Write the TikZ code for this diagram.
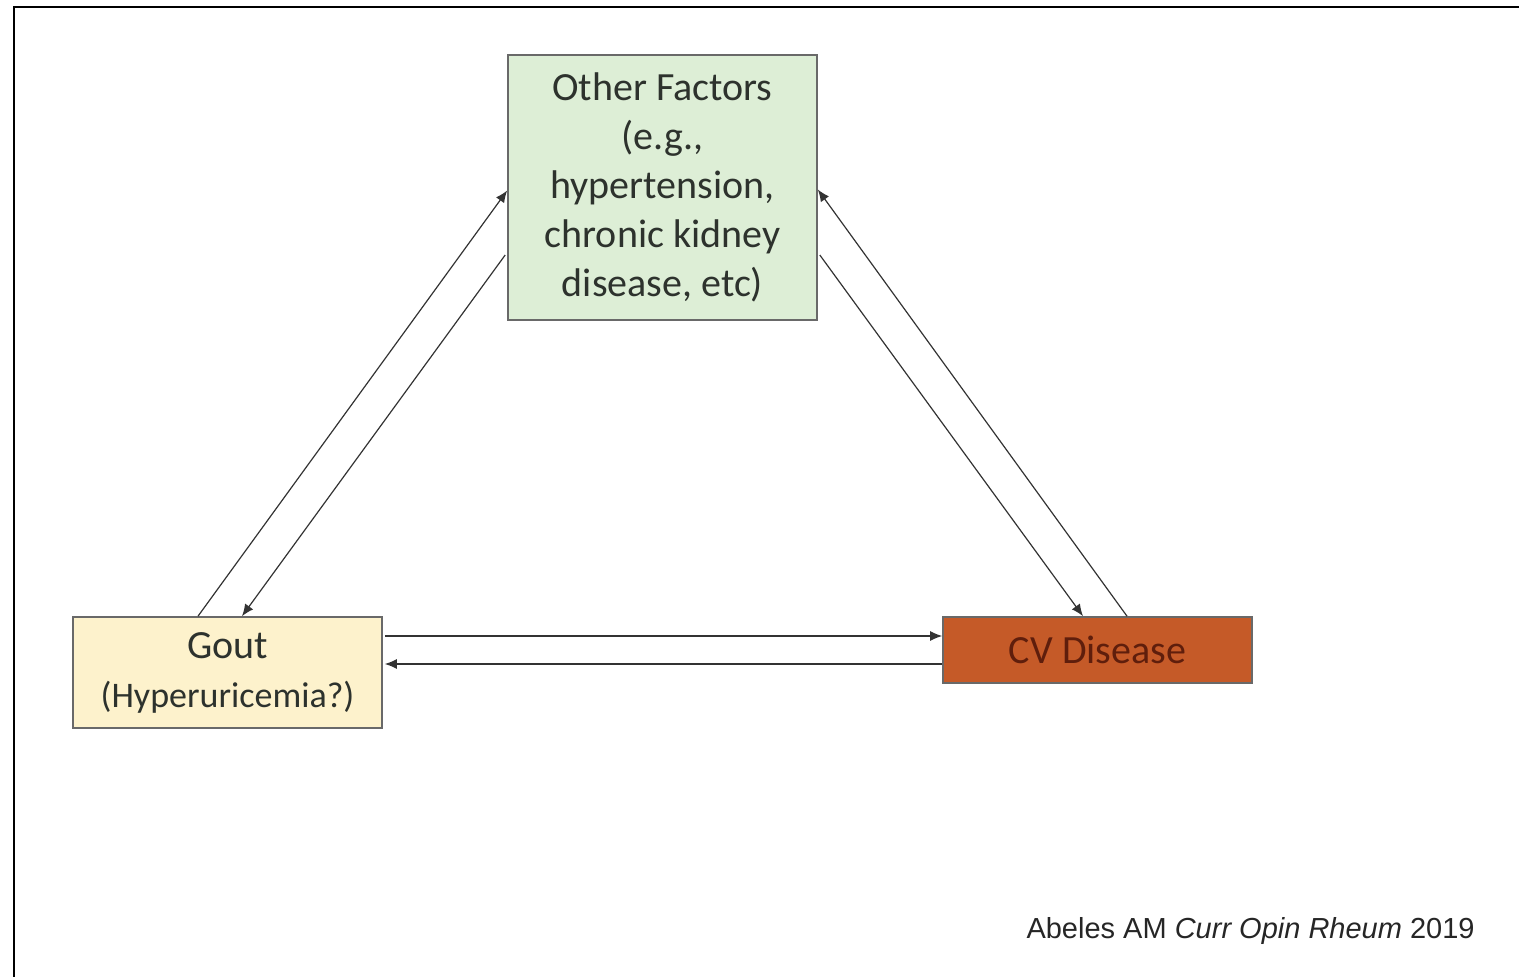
\documentclass[tikz,border=0pt]{standalone}
\usepackage{fontspec}
\setmainfont{Carlito}
\newfontfamily\citefont{Liberation Sans}
\usepackage{xcolor}
\definecolor{otherfill}{RGB}{221,238,214}
\definecolor{goutfill}{RGB}{253,242,204}
\definecolor{cvfill}{RGB}{197,90,40}
\definecolor{cvtext}{RGB}{95,30,12}
\definecolor{boxline}{RGB}{105,105,105}
\definecolor{darktext}{RGB}{45,50,45}
\usetikzlibrary{arrows.meta}

\begin{document}
\begin{tikzpicture}[x=0.5pt,y=0.5pt,yscale=-1,
  factorbox/.style={draw=boxline,line width=0.8pt,minimum width=154.5pt,inner sep=0pt,align=center,text=darktext,font=\fontsize{20}{24.5}\selectfont},
  link/.style={-{Latex[length=6pt,width=5pt]},line width=0.6pt,draw=black!80}]
\useasboundingbox (0,0) rectangle (1519,977);

%Frame
\draw [line width=1pt] (13.5,977) -- (13.5,7.5) -- (1519,7.5) ;

% Text Node
\node (other) [factorbox,fill=otherfill,minimum height=132.5pt] at (662.5,187.5) {Other Factors\\(e.g.,\\hypertension,\\chronic kidney\\disease, etc)};
% Text Node
\node (gout) [factorbox,fill=goutfill,minimum height=55.5pt] at (227.5,672.5) {Gout\\[0pt]{\fontsize{18}{22}\selectfont (Hyperuricemia?)}};
% Text Node
\node (cv) [factorbox,fill=cvfill,minimum height=33pt,text=cvtext] at (1097.5,650) {CV Disease};
% Text Node
\node (cite) [anchor=east,inner sep=0pt,font=\citefont\fontsize{14.5}{17}\selectfont,text=black!85] at (1475,931) {Abeles AM \textit{Curr Opin Rheum} 2019};

%Straight Lines
\draw [link] ([xshift=-14.75pt]gout.north) -- ([yshift=1.5pt]other.west) ;
\draw [link] ([yshift=33.75pt,xshift=-1pt]other.west) -- ([xshift=7.25pt]gout.north) ;
%Straight Lines
\draw [link] ([yshift=33.75pt,xshift=1pt]other.east) -- ([xshift=-7.25pt]cv.north) ;
\draw [link] ([xshift=14.75pt]cv.north) -- ([yshift=1pt]other.east) ;
%Straight Lines
\draw [link] ([yshift=-18.25pt,xshift=1pt]gout.east) -- ([yshift=-7pt]cv.west) ;
\draw [link] ([yshift=7pt]cv.west) -- ([yshift=-4.25pt,xshift=1pt]gout.east) ;

\end{tikzpicture}
\end{document}
